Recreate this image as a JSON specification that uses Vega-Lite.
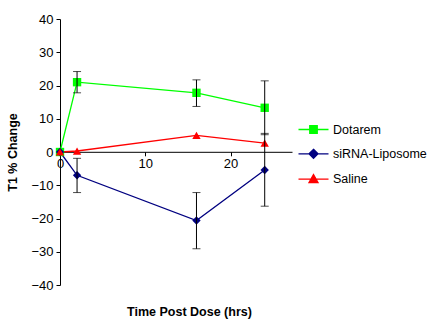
{
  "$schema": "https://vega.github.io/schema/vega-lite/v6.json",
  "width": 232,
  "height": 266,
  "autosize": {"type": "none"},
  "padding": {"left": 60, "top": 19, "right": 137, "bottom": 35},
  "background": "white",
  "config": {
    "view": {"stroke": null},
    "font": "Liberation Sans",
    "axis": {"grid": false, "domainColor": "black", "tickColor": "black", "labelColor": "black", "titleColor": "black", "labelFont": "Liberation Sans", "titleFont": "Liberation Sans"}
  },
  "data": {
    "values": [
      {"series": "Dotarem", "t": 0, "y": 0},
      {"series": "Dotarem", "t": 2, "y": 21.0, "lo": 17.8, "hi": 24.2},
      {"series": "Dotarem", "t": 16, "y": 17.8, "lo": 13.7, "hi": 21.7},
      {"series": "Dotarem", "t": 24, "y": 13.3, "lo": 5.2, "hi": 21.4},
      {"series": "siRNA-Liposome", "t": 0, "y": 0},
      {"series": "siRNA-Liposome", "t": 2, "y": -7.0, "lo": -12.2, "hi": -1.9},
      {"series": "siRNA-Liposome", "t": 16, "y": -20.6, "lo": -29.1, "hi": -12.2},
      {"series": "siRNA-Liposome", "t": 24, "y": -5.4, "lo": -16.3, "hi": 5.6},
      {"series": "Saline", "t": 0, "y": 0},
      {"series": "Saline", "t": 2, "y": 0.3},
      {"series": "Saline", "t": 16, "y": 5.0},
      {"series": "Saline", "t": 24, "y": 2.7}
    ]
  },
  "encoding": {
    "x": {"field": "t", "type": "quantitative", "scale": {"domain": [0, 27.2], "nice": false, "zero": false},
      "axis": {"values": [0, 10, 20], "offset": -133.2, "title": "Time Post Dose (hrs)", "titleFontSize": 12.5, "titleFontWeight": "bold", "titleX": 129, "titleY": 164, "titleBaseline": "alphabetic", "titleAnchor": null, "labelFontSize": 13, "tickSize": 4, "labelPadding": 2, "labelFlush": false}},
    "y": {"field": "y", "type": "quantitative", "scale": {"domain": [-40, 40], "nice": false},
      "axis": {"values": [-40, -30, -20, -10, 0, 10, 20, 30, 40], "title": "T1 % Change", "titleFontSize": 12.5, "titleFontWeight": "bold", "titleX": -41, "labelFontSize": 13, "tickSize": 4, "labelPadding": 3}}
  },
  "layer": [
    {
      "mark": {"type": "line", "strokeWidth": 1.3},
      "encoding": {
        "color": {"field": "series", "type": "nominal",
          "scale": {"domain": ["Dotarem", "siRNA-Liposome", "Saline"], "range": ["#00ff00", "#000080", "#ff0000"]},
          "legend": {"orient": "none", "legendX": 245, "legendY": 102, "title": null, "padding": 0, "symbolSize": 225, "symbolStrokeWidth": 1.3, "labelFontSize": 12.5, "labelColor": "black", "labelOffset": 11, "rowPadding": 9.3}
        }
      }
    },
    {
      "transform": [{"filter": "datum.t < 0"}],
      "mark": {"type": "point", "filled": true, "opacity": 1, "strokeWidth": 1.3},
      "encoding": {
        "color": {"field": "series", "type": "nominal"},
        "stroke": {"field": "series", "type": "nominal", "scale": {"domain": ["Dotarem", "siRNA-Liposome", "Saline"], "range": ["#00ff00", "#000080", "#ff0000"]}},
        "shape": {"field": "series", "type": "nominal", "scale": {"domain": ["Dotarem", "siRNA-Liposome", "Saline"], "range": ["M-2,0H2M-0.5,-0.5H0.5V0.5H-0.5Z", "M-2,0H2M0,-0.6L0.6,0L0,0.6L-0.6,0Z", "M-2,0H2M0,-0.6L0.6,0.45H-0.6Z"]}}
      }
    },
    {
      "transform": [{"filter": "datum.series === 'Dotarem'"}],
      "mark": {"type": "point", "filled": true, "opacity": 1, "size": 70, "shape": "square", "color": "#00ff00"}
    },
    {
      "transform": [{"filter": "datum.series === 'siRNA-Liposome'"}],
      "mark": {"type": "point", "filled": true, "opacity": 1, "size": 70, "shape": "diamond", "color": "#000080"}
    },
    {
      "transform": [{"filter": "datum.series === 'Saline'"}],
      "mark": {"type": "point", "filled": true, "opacity": 1, "size": 70, "shape": "triangle-up", "color": "#ff0000"}
    },
    {
      "mark": {"type": "errorbar", "ticks": {"size": 8, "color": "black"}, "rule": {"color": "black", "strokeWidth": 1}},
      "encoding": {
        "y": {"field": "lo", "type": "quantitative"},
        "y2": {"field": "hi"}
      }
    }
  ]
}
